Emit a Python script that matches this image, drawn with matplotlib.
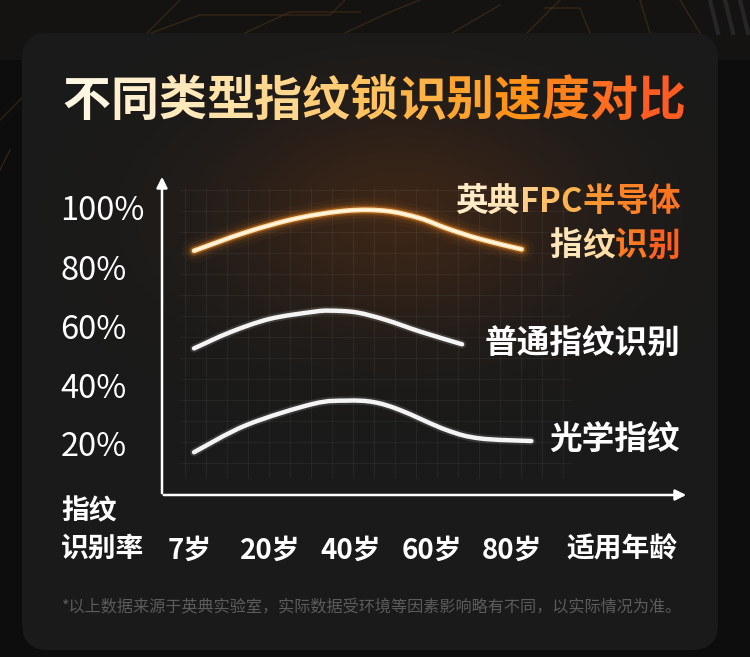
import numpy as np
import matplotlib
matplotlib.use('Agg')
import matplotlib.pyplot as plt
from matplotlib.patches import FancyBboxPatch, PathPatch, Rectangle
from matplotlib.path import Path
from matplotlib.colors import to_rgb, LinearSegmentedColormap

plt.rcParams['font.family'] = ['Noto Sans CJK SC', 'DejaVu Sans']

W, H = 750, 657

# 数据
title = '不同类型指纹锁识别速度对比'
age_labels = ['7岁', '20岁', '40岁', '60岁', '80岁']
y_ticks = [20, 40, 60, 80, 100]
y_labels = ['20%', '40%', '60%', '80%', '100%']
footnote = '*以上数据来源于英典实验室，实际数据受环境等因素影响略有不同，以实际情况为准。'

# x: 年龄轴上的位置 (0 = 7岁 ... 4 = 80岁), y: 识别率 %
fpc_x = [0.05, 0.70, 1.33, 1.95, 2.44, 2.86, 3.19, 3.60, 4.12]
fpc_y = [85.5, 91.8, 96.5, 99.1, 99.0, 96.5, 93.1, 89.5, 86.0]
normal_x = [0.05, 0.50, 0.99, 1.53, 1.74, 2.07, 2.44, 2.86, 3.38]
normal_y = [52.4, 57.9, 62.4, 64.8, 65.2, 64.6, 62.0, 58.1, 53.8]
optical_x = [0.05, 0.70, 1.53, 1.95, 2.28, 2.61, 3.19, 3.60, 4.24]
optical_y = [17.2, 26.4, 33.6, 34.7, 34.2, 31.5, 24.7, 21.9, 21.0]


def smooth_path(xs, ys):
    # 经过各数据点的平滑贝塞尔路径
    p = np.column_stack([xs, ys]).astype(float)
    n = len(p)
    verts = [p[0]]
    codes = [Path.MOVETO]
    for i in range(n - 1):
        p0 = p[i - 1] if i > 0 else p[i]
        p3 = p[i + 2] if i + 2 < n else p[i + 1]
        c1 = p[i] + (p[i + 1] - p0) / 6
        c2 = p[i + 1] - (p3 - p[i]) / 6
        verts += [c1, c2, p[i + 1]]
        codes += [Path.CURVE4] * 3
    return Path(verts, codes)


fig = plt.figure(figsize=(W / 100, H / 100), dpi=100)
fig.patch.set_facecolor('#0d0d0d')

# 背景层（像素坐标）
bg = fig.add_axes([0, 0, 1, 1])
bg.set_xlim(0, W)
bg.set_ylim(H, 0)
bg.axis('off')

# 顶部电路纹理
bg.add_patch(Rectangle((0, 0), W, 60, fc='#151312', ec='none', zorder=0))
for pts in [[(0, 120), (60, 60), (120, 60), (180, 0)],
            [(110, 48), (200, 15), (330, 15), (345, 0)],
            [(230, 40), (290, 12), (360, 12)],
            [(330, 40), (390, 12), (420, 0)],
            [(440, 40), (500, 5)],
            [(520, 40), (560, 0)],
            [(545, 8), (580, 8), (590, 33)],
            [(640, 0), (650, 33)],
            [(680, 0), (700, 33)],
            [(10, 150), (0, 170)]]:
    xs, ys = zip(*pts)
    bg.plot(xs, ys, color='#4a3218', lw=1.0, alpha=0.6, zorder=0.5)
for px0 in [710, 725, 740]:
    bg.plot([px0, px0 + 8], [0, 33], color='#262626', lw=3, zorder=0.5)

card = FancyBboxPatch((22, 33), 696, 617, boxstyle='round,pad=0,rounding_size=26',
                      fc='#1a1a1a', ec='none', zorder=1)
bg.add_patch(card)

# 橙色光晕
yy, xx = np.mgrid[0:H, 0:W]
r2 = ((xx - 400) / 230.0) ** 2 + ((yy - 215) / 140.0) ** 2
glow = np.zeros((H, W, 4))
glow[..., 0], glow[..., 1], glow[..., 2] = to_rgb('#b5500f')
glow[..., 3] = 0.22 * np.exp(-r2 * 1.6)
im = bg.imshow(glow, extent=(0, W, H, 0), aspect='auto', zorder=2)
im.set_clip_path(card)
bg.set_xlim(0, W)
bg.set_ylim(H, 0)

# 网格
for gx in range(185, 575, 21):
    bg.plot([gx, gx], [188, 478], color='white', lw=0.7, alpha=0.05, zorder=3)
for gy in range(190, 480, 21):
    bg.plot([180, 570], [gy, gy], color='white', lw=0.7, alpha=0.05, zorder=3)

# 坐标轴箭头
bg.annotate('', xy=(162, 174), xytext=(162, 496),
            arrowprops=dict(arrowstyle='-|>', color='white', lw=1.8, mutation_scale=16), zorder=5)
bg.annotate('', xy=(689, 495), xytext=(161, 495),
            arrowprops=dict(arrowstyle='-|>', color='white', lw=1.8, mutation_scale=16), zorder=5)

renderer = fig.canvas.get_renderer()


def text_width(s, **kw):
    t = bg.text(0, 0, s, **kw)
    bb = t.get_window_extent(renderer)
    t.remove()
    return bb.width


def gradient_text(chars, colors, x, y, align='left', **kw):
    total = text_width(''.join(chars), **kw)
    if align == 'center':
        x = x - total / 2
    elif align == 'right':
        x = x - total
    for ch, c in zip(chars, colors):
        t = bg.text(x, y, ch, color=c, ha='left', va='center', zorder=6, **kw)
        x += t.get_window_extent(renderer).width


title_cmap = LinearSegmentedColormap.from_list(
    't', ['#fff6e2', '#ffe2a8', '#ffc25e', '#ff9418', '#ff5c24'])
tchars = list(title)
gradient_text(tchars, [title_cmap(i / (len(tchars) - 1)) for i in range(len(tchars))],
              374, 101, align='center', fontsize=34.5, fontweight='bold')

lab_cmap = LinearSegmentedColormap.from_list('l', ['#fff0d2', '#ffd89a', '#ffaa3c', '#ff7a1e', '#ff5a22'])
l1 = ['英', '典', 'F', 'P', 'C', '半', '导', '体']
gradient_text(l1, [lab_cmap(v) for v in [0.05, 0.12, 0.3, 0.38, 0.45, 0.6, 0.7, 0.8]],
              680, 202, align='right', fontsize=23.5, fontweight='bold')
l2 = ['指', '纹', '识', '别']
gradient_text(l2, [lab_cmap(v) for v in [0.1, 0.2, 0.75, 0.95]],
              680, 246, align='right', fontsize=23.5, fontweight='bold')

bg.text(680, 343, '普通指纹识别', color='white', ha='right', va='center', fontsize=23.5,
        fontweight='bold', zorder=6)
bg.text(680, 439, '光学指纹', color='white', ha='right', va='center', fontsize=23.5,
        fontweight='bold', zorder=6)

bg.text(61, 511, '指纹', color='white', ha='left', va='center', fontsize=20, fontweight='bold', zorder=6)
bg.text(61, 549, '识别率', color='white', ha='left', va='center', fontsize=20, fontweight='bold', zorder=6)
bg.text(622, 549, '适用年龄', color='white', ha='center', va='center', fontsize=20,
        fontweight='bold', zorder=6)
bg.text(372, 607, footnote, color='#5c5c5c', ha='center', va='center', fontsize=11.6, zorder=6)

# 数据坐标轴
ax = fig.add_axes([162 / W, 1 - 495 / H, 523 / W, 321 / H])
ax.set_xlim((162 - 190) / 80.5, (685 - 190) / 80.5)
ax.set_ylim(100 - (495 - 208) / 2.95, 100 + (208 - 174) / 2.95)
ax.patch.set_alpha(0)
for s in ax.spines.values():
    s.set_visible(False)

ax.set_yticks(y_ticks, y_labels)
ax.set_xticks(range(len(age_labels)), age_labels)
ax.tick_params(axis='y', length=0, pad=73, labelsize=23.5, labelcolor='white')
ax.tick_params(axis='x', length=0, pad=30, labelsize=20, labelcolor='white')
for t in ax.get_yticklabels():
    t.set_ha('left')
for t in ax.get_xticklabels():
    t.set_fontweight('bold')

# 白色曲线
for xs, ys in [(normal_x, normal_y), (optical_x, optical_y)]:
    pth = smooth_path(xs, ys)
    ax.add_patch(PathPatch(pth, fill=False, ec='white', lw=6, alpha=0.12, capstyle='round'))
    ax.add_patch(PathPatch(pth, fill=False, ec='#f4f4f4', lw=3.2, capstyle='round'))

# 英典FPC 发光曲线
fpc_path = smooth_path(fpc_x, fpc_y)
for lw, a in [(18, 0.04), (12, 0.08), (8, 0.16), (5.5, 0.35)]:
    ax.add_patch(PathPatch(fpc_path, fill=False, ec='#ff8c1e', lw=lw, alpha=a, capstyle='round'))
ax.add_patch(PathPatch(fpc_path, fill=False, ec='#ffe0a6', lw=3.4, capstyle='round'))
ax.add_patch(PathPatch(fpc_path, fill=False, ec='#fff7e6', lw=1.6, capstyle='round'))

fig.savefig('out.png', dpi=100, facecolor=fig.get_facecolor())
